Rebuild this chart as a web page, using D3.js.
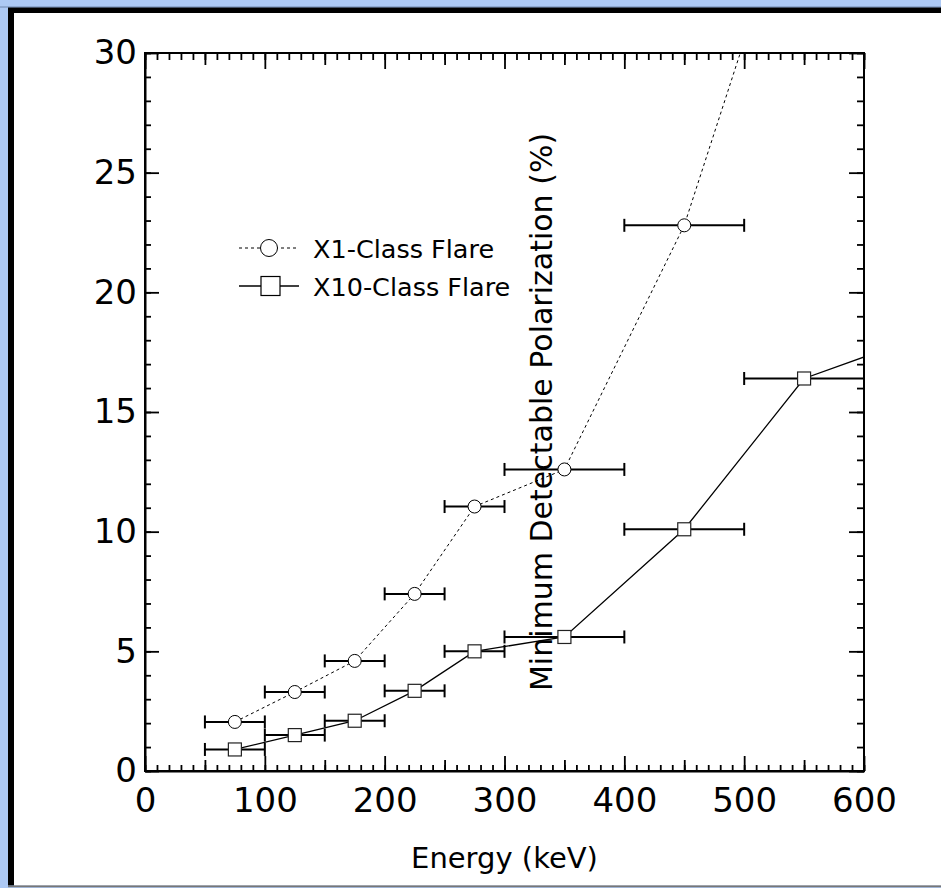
<!DOCTYPE html>
<html>
<head>
<meta charset="utf-8">
<script src="https://cdn.jsdelivr.net/npm/d3@7"></script>
<style>
body { margin: 0; background: #adc9f4; overflow: hidden; }
svg { display: block; }
</style>
</head>
<body>
<svg id="chart"></svg>
<script>
// energy bins (keV) - last entries run off the plot and are clipped
const energy  = [75, 125, 175, 225, 275, 350, 450, 550, 650];
const binLow  = [50, 100, 150, 200, 250, 300, 400, 500, 600];
const binHigh = [100, 150, 200, 250, 300, 400, 500, 600, 700];
const mdpX1   = [2.05, 3.3, 4.6, 7.4, 11.05, 12.6, 22.8, 38.2, null];
const mdpX10  = [0.9, 1.5, 2.1, 3.35, 5.0, 5.6, 10.1, 16.4, 18.2];
const seriesNames = ["X1-Class Flare", "X10-Class Flare"];
const xTickLabels = [0, 100, 200, 300, 400, 500, 600];
const yTickLabels = [0, 5, 10, 15, 20, 25, 30];

const W = 941, H = 888;
const font = "'DejaVu Sans', sans-serif";

const svg = d3.select("#chart").attr("width", W).attr("height", H);

// page frame: blue surround, black top/left rule, white sheet
svg.append("rect").attr("x", 0).attr("y", 0).attr("width", W).attr("height", H).attr("fill", "#adc9f4");
svg.append("line").attr("x1", 0).attr("x2", W).attr("y1", 7).attr("y2", 7).attr("stroke", "#6f86ad").attr("stroke-width", 1);
svg.append("rect").attr("x", 8).attr("y", 7.5).attr("width", W).attr("height", 878).attr("fill", "#000");
svg.append("rect").attr("x", 14).attr("y", 13).attr("width", W).attr("height", 872.5).attr("fill", "#fff");
svg.append("line").attr("x1", 8).attr("x2", W).attr("y1", 886.5).attr("y2", 886.5).attr("stroke", "#777").attr("stroke-width", 1.5);

const x = d3.scaleLinear().domain([0, 600]).range([145, 864]);
const y = d3.scaleLinear().domain([0, 30]).range([771, 53]);

svg.append("defs").append("clipPath").attr("id", "plot-clip")
  .append("rect")
  .attr("x", x(0)).attr("y", y(30))
  .attr("width", x(600) - x(0)).attr("height", y(0) - y(30));

// axes: inward ticks, minor / medium / major layers
function styleAxis(g) {
  g.selectAll(".domain").attr("stroke", "#000").attr("stroke-width", 2);
  g.selectAll(".tick line").attr("stroke", "#000").attr("stroke-width", 1.8);
  g.selectAll("text").attr("font-family", font).attr("font-size", 34).attr("fill", "#000");
}

function addAxis(axisFn, scale, pos, values, size, labels, pad) {
  const a = axisFn(scale).tickValues(values).tickSize(-size).tickSizeOuter(0);
  if (labels) a.tickPadding(pad).tickFormat(d3.format("d"));
  else a.tickFormat("");
  const g = svg.append("g").attr("transform", pos).call(a).call(styleAxis);
  if (!labels) g.select(".domain").remove();
  return g;
}

const xMinor = d3.range(0, 601, 10);
const xMid = d3.range(50, 600, 100);
const yMinor = d3.range(0, 31, 1);

// bottom
addAxis(d3.axisBottom, x, `translate(0,${y(0)})`, xMinor, 6, false);
addAxis(d3.axisBottom, x, `translate(0,${y(0)})`, xMid, 11, false);
addAxis(d3.axisBottom, x, `translate(0,${y(0)})`, xTickLabels, 15, true, 17);
// top
addAxis(d3.axisTop, x, `translate(0,${y(30)})`, xMinor, 7, false);
addAxis(d3.axisTop, x, `translate(0,${y(30)})`, xMid, 12, false);
const topAx = addAxis(d3.axisTop, x, `translate(0,${y(30)})`, xTickLabels, 16, false);
// left
addAxis(d3.axisLeft, y, `translate(${x(0)},0)`, yMinor, 6, false);
addAxis(d3.axisLeft, y, `translate(${x(0)},0)`, yTickLabels, 14, true, 8);
// right
addAxis(d3.axisRight, y, `translate(${x(600)},0)`, yMinor, 7, false);
addAxis(d3.axisRight, y, `translate(${x(600)},0)`, yTickLabels, 15, false);

// full frame lines
svg.append("rect")
  .attr("x", x(0)).attr("y", y(30))
  .attr("width", x(600) - x(0)).attr("height", y(0) - y(30))
  .attr("fill", "none").attr("stroke", "#000").attr("stroke-width", 2);

// data
const rows = energy.map((e, i) => ({ e, lo: binLow[i], hi: binHigh[i], v1: mdpX1[i], v10: mdpX10[i] }));
const plot = svg.append("g").attr("clip-path", "url(#plot-clip)");

const line1 = d3.line().defined(d => d.v1 != null).x(d => x(d.e)).y(d => y(d.v1));
const line10 = d3.line().x(d => x(d.e)).y(d => y(d.v10));

plot.append("path").datum(rows).attr("d", line1)
  .attr("fill", "none").attr("stroke", "#000").attr("stroke-width", 1).attr("stroke-dasharray", "3,3");
plot.append("path").datum(rows).attr("d", line10)
  .attr("fill", "none").attr("stroke", "#000").attr("stroke-width", 1.3);

function errorBars(key) {
  const pts = rows.filter(d => d[key] != null);
  const g = plot.append("g").attr("stroke", "#000").attr("stroke-width", 2);
  g.selectAll(".bar").data(pts).enter().append("line")
    .attr("x1", d => x(d.lo)).attr("x2", d => x(d.hi))
    .attr("y1", d => y(d[key])).attr("y2", d => y(d[key]));
  g.selectAll(".capl").data(pts).enter().append("line")
    .attr("x1", d => x(d.lo)).attr("x2", d => x(d.lo))
    .attr("y1", d => y(d[key]) - 6.5).attr("y2", d => y(d[key]) + 6.5);
  g.selectAll(".caph").data(pts).enter().append("line")
    .attr("x1", d => x(d.hi)).attr("x2", d => x(d.hi))
    .attr("y1", d => y(d[key]) - 6.5).attr("y2", d => y(d[key]) + 6.5);
}
errorBars("v1");
errorBars("v10");

plot.selectAll(".c1").data(rows.filter(d => d.v1 != null)).enter().append("circle")
  .attr("cx", d => x(d.e)).attr("cy", d => y(d.v1)).attr("r", 6.5)
  .attr("fill", "#fff").attr("stroke", "#000").attr("stroke-width", 1);
plot.selectAll(".s10").data(rows).enter().append("rect")
  .attr("x", d => x(d.e) - 6.5).attr("y", d => y(d.v10) - 6.5)
  .attr("width", 13).attr("height", 13)
  .attr("fill", "#fff").attr("stroke", "#222").attr("stroke-width", 1.2);

// axis titles
svg.append("text")
  .attr("x", (x(0) + x(600)) / 2).attr("y", 868)
  .attr("text-anchor", "middle")
  .attr("font-family", font).attr("font-size", 29)
  .text("Energy (keV)");

svg.append("text")
  .attr("transform", `translate(552,${(y(0) + y(30)) / 2}) rotate(-90)`)
  .attr("text-anchor", "middle")
  .attr("font-family", font).attr("font-size", 30)
  .text("Minimum Detectable Polarization (%)");

// legend
const legend = svg.append("g");
const legRows = [248, 286];
legend.append("line").attr("x1", 239).attr("x2", 299).attr("y1", legRows[0]).attr("y2", legRows[0])
  .attr("stroke", "#000").attr("stroke-width", 1).attr("stroke-dasharray", "3,3");
legend.append("circle").attr("cx", 269).attr("cy", legRows[0]).attr("r", 8.5)
  .attr("fill", "#fff").attr("stroke", "#000").attr("stroke-width", 1);
legend.append("line").attr("x1", 239).attr("x2", 299).attr("y1", legRows[1]).attr("y2", legRows[1])
  .attr("stroke", "#000").attr("stroke-width", 1.3);
legend.append("rect").attr("x", 261).attr("y", legRows[1] - 9.5).attr("width", 19).attr("height", 19)
  .attr("fill", "#fff").attr("stroke", "#000").attr("stroke-width", 1.2);
legend.selectAll("text").data(seriesNames).enter().append("text")
  .attr("x", 313).attr("y", (d, i) => legRows[i] + 9.5)
  .attr("font-family", font).attr("font-size", 25.5)
  .text(d => d);
</script>
</body>
</html>
